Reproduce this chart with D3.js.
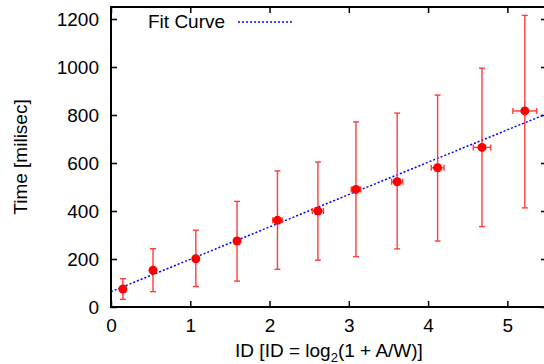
<!DOCTYPE html>
<html>
<head>
<meta charset="utf-8">
<script src="https://cdn.jsdelivr.net/npm/d3@7"></script>
<style>
  body { margin: 0; background: #fff; }
  text { font-family: "Liberation Sans", Arial, sans-serif; fill: #000; }
</style>
</head>
<body>
<div id="chart"></div>
<script>
// data
var idValues   = [0.15, 0.53, 1.07, 1.59, 2.10, 2.61, 3.09, 3.61, 4.12, 4.68, 5.22];
var idErr      = [0.02, 0.02, 0.02, 0.03, 0.06, 0.07, 0.06, 0.07, 0.08, 0.11, 0.15];
var timeValues = [75, 153, 201, 275, 361, 400, 490, 522, 580, 665, 817];
var timeLow    = [32, 64, 85, 108, 157, 195, 210, 242, 275, 335, 413];
var timeHigh   = [118, 243, 320, 440, 567, 604, 771, 808, 883, 995, 1215];
var fitIntercept = 64;
var fitSlope = 134.8;
var xTicks = [0, 1, 2, 3, 4, 5];
var yTicks = [0, 200, 400, 600, 800, 1000, 1200];

var width = 544, height = 364;
var plotLeft = 111, plotRight = 547, plotTop = 7, plotBottom = 307;
var tickLen = 6;

var svg = d3.select("#chart").append("svg")
    .attr("width", width)
    .attr("height", height);

var x = d3.scaleLinear().domain([0, 5.5]).range([plotLeft, plotRight]);
var y = d3.scaleLinear().domain([0, 1250]).range([plotBottom, plotTop]);

svg.append("defs").append("clipPath").attr("id", "plotclip")
    .append("rect")
    .attr("x", plotLeft).attr("y", plotTop)
    .attr("width", plotRight - plotLeft).attr("height", plotBottom - plotTop);

// axes with mirrored inward ticks
var fs = "19px";
svg.append("g")
    .attr("transform", "translate(0," + plotBottom + ")")
    .call(d3.axisBottom(x).tickValues(xTicks).tickSize(-tickLen).tickPadding(12).tickFormat(d3.format("d")))
    .call(g => g.select(".domain").remove())
    .call(g => g.selectAll("text").style("font-size", fs));
svg.append("g")
    .attr("transform", "translate(0," + plotTop + ")")
    .call(d3.axisTop(x).tickValues(xTicks).tickSize(-tickLen).tickFormat(""))
    .call(g => g.select(".domain").remove());
svg.append("g")
    .attr("transform", "translate(" + plotLeft + ",0)")
    .call(d3.axisLeft(y).tickValues(yTicks).tickSize(-tickLen).tickPadding(12).tickFormat(d3.format("d")))
    .call(g => g.select(".domain").remove())
    .call(g => g.selectAll("text").style("font-size", fs));
svg.append("g")
    .attr("transform", "translate(" + plotRight + ",0)")
    .call(d3.axisRight(y).tickValues(yTicks).tickSize(-tickLen).tickFormat(""))
    .call(g => g.select(".domain").remove());
svg.selectAll(".tick line").style("stroke", "black").style("stroke-width", "1.5");

// border
svg.append("rect")
    .attr("x", plotLeft).attr("y", plotTop)
    .attr("width", plotRight - plotLeft).attr("height", plotBottom - plotTop)
    .style("fill", "none")
    .style("stroke", "black")
    .style("stroke-width", "2");

// axis titles
svg.append("text")
    .attr("transform", "translate(27," + ((plotTop + plotBottom) / 2) + ") rotate(-90)")
    .attr("text-anchor", "middle")
    .style("font-size", fs)
    .text("Time [milisec]");
var xl = svg.append("text")
    .attr("x", (plotLeft + plotRight) / 2)
    .attr("y", 357)
    .attr("text-anchor", "middle")
    .style("font-size", fs);
xl.append("tspan").text("ID [ID = log");
xl.append("tspan").attr("dy", 5).style("font-size", "13px").text("2");
xl.append("tspan").attr("dy", -5).text("(1 + A/W)]");

var plot = svg.append("g").attr("clip-path", "url(#plotclip)");

// fit curve
var fitLine = d3.line()
    .x(d => x(d))
    .y(d => y(fitIntercept + fitSlope * d));
plot.append("path")
    .datum(x.domain())
    .attr("d", fitLine)
    .style("fill", "none")
    .style("stroke", "#0000ff")
    .style("stroke-width", "1.5")
    .style("stroke-dasharray", "2,2");

// error bars
var errColor = "#ff3b3b";
var cap = 3;
idValues.forEach(function(d, i) {
    var g = plot.append("g")
        .style("stroke", errColor)
        .style("stroke-width", "1.4");
    g.append("line")
        .attr("x1", x(d)).attr("x2", x(d))
        .attr("y1", y(timeLow[i])).attr("y2", y(timeHigh[i]));
    g.append("line")
        .attr("x1", x(d) - cap).attr("x2", x(d) + cap)
        .attr("y1", y(timeLow[i])).attr("y2", y(timeLow[i]));
    g.append("line")
        .attr("x1", x(d) - cap).attr("x2", x(d) + cap)
        .attr("y1", y(timeHigh[i])).attr("y2", y(timeHigh[i]));
    g.append("line")
        .attr("x1", x(d - idErr[i])).attr("x2", x(d + idErr[i]))
        .attr("y1", y(timeValues[i])).attr("y2", y(timeValues[i]));
    g.append("line")
        .attr("x1", x(d - idErr[i])).attr("x2", x(d - idErr[i]))
        .attr("y1", y(timeValues[i]) - cap).attr("y2", y(timeValues[i]) + cap);
    g.append("line")
        .attr("x1", x(d + idErr[i])).attr("x2", x(d + idErr[i]))
        .attr("y1", y(timeValues[i]) - cap).attr("y2", y(timeValues[i]) + cap);
});

// points
plot.selectAll("circle")
    .data(idValues).enter()
    .append("circle")
    .attr("cx", d => x(d))
    .attr("cy", (d, i) => y(timeValues[i]))
    .attr("r", 4.5)
    .style("fill", "#ff0000");

// legend
svg.append("text")
    .attr("x", 148)
    .attr("y", 28)
    .style("font-size", fs)
    .text("Fit Curve");
svg.append("line")
    .attr("x1", 238).attr("x2", 292)
    .attr("y1", 22).attr("y2", 22)
    .style("stroke", "#0000ff")
    .style("stroke-width", "1.5")
    .style("stroke-dasharray", "2,2");
</script>
</body>
</html>
